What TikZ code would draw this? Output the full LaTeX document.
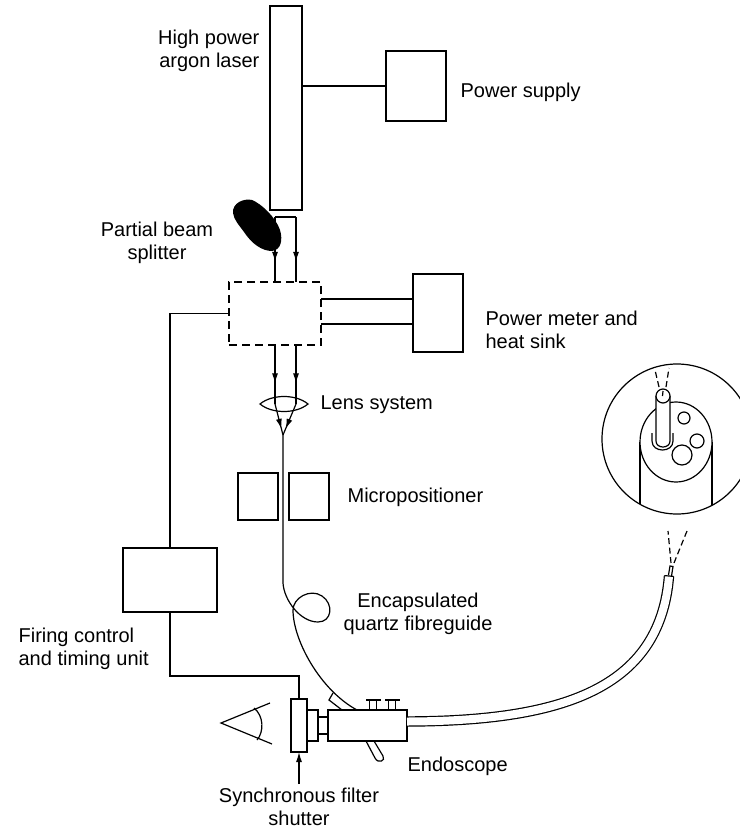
\documentclass[tikz,border=0pt]{standalone}
\usepackage{fontspec}
\setmainfont{Liberation Sans}
\usetikzlibrary{positioning,arrows.meta,decorations.markings}

\tikzset{
  box/.style={draw, rectangle, inner sep=0pt, outer sep=0pt},
  lbl/.style={inner sep=0pt, font=\fontsize{20}{23.5}\selectfont},
  arr/.style={-{Latex[length=10pt,width=6pt]}},
  midarr/.style={postaction={decorate}, decoration={markings,
      mark=at position #1 with {\arrow{Latex[length=10pt,width=6pt]}}}},
  beam/.style={dash pattern=on 6pt off 3.5pt},
}

\begin{document}
\begin{tikzpicture}[x=1pt, y=-1pt, line width=1.2pt]
\useasboundingbox (0,0) rectangle (739,832);

\node (laser) [box, minimum width=32pt, minimum height=204pt] at (286,108) {};
\node (psupply) [box, minimum width=60pt, minimum height=70pt] at (416,86) {};
\node (split) [box, dash pattern=on 8pt off 5pt, minimum width=92pt, minimum height=63pt] at (275,313.5) {};
\node (meter) [box, minimum width=50pt, minimum height=78pt] at (438,313) {};
\node (posL) [box, minimum width=40pt, minimum height=47pt] at (258,496.5) {};
\node (posR) [box, minimum width=40pt, minimum height=47pt, right=11pt of posL] {};
\node (firing) [box, minimum width=94pt, minimum height=64pt] at (170,580) {};
\node (shutter) [box, minimum width=16pt, minimum height=53pt] at (299,725.5) {};
\node (eyering) [box, minimum width=11pt, minimum height=31pt, right=0pt of shutter] {};
\node (coupler) [box, minimum width=10pt, minimum height=17pt, right=0pt of eyering] {};
\node (endo) [box, minimum width=79pt, minimum height=31pt, right=0pt of coupler] {};

\node (lasertxt) [lbl, align=right, anchor=east] at (260,51) {High power\\argon laser};
\node (supplytxt) [lbl, anchor=west] at (460,92) {Power supply};
\node (splittxt) [lbl, align=center] at (157,243) {Partial beam\\splitter};
\node (metertxt) [lbl, align=left, anchor=west] at (485,330) {Power meter and\\heat sink};
\node (lenstxt) [lbl, anchor=west] at (320,405) {Lens system};
\node (postxt) [lbl, anchor=west] at (347,497) {Micropositioner};
\node (fibretxt) [lbl, align=center] at (418,614) {Encapsulated\\quartz fibreguide};
\node (firingtxt) [lbl, align=left, anchor=west] at (18,649) {Firing control\\and timing unit};
\node (endotxt) [lbl, anchor=west] at (407,766) {Endoscope};
\node (shuttertxt) [lbl, align=center] at (299,807) {Synchronous filter\\shutter};

\coordinate (inL) at (275,217);
\coordinate (inR) at (296,217);
\coordinate (outR) at (296,345);
\coordinate (lensL) at (275,404);
\coordinate (lensR) at (296,404);
\coordinate (focus) at (283,435);
\coordinate (fibreend) at (357,710);
\coordinate (tubeend) at (669,576);
\coordinate (trig) at (299,784);
\path (split.east) ++(0,-14.5) coordinate (m1) ++(0,25) coordinate (m2);

\path [-] (laser.east |- psupply.west) edge (psupply.west);
\path [-] (m1) edge (m1 -| meter.west);
\path [-] (m2) edge (m2 -| meter.west);

% beam splitter
\fill (233,213) .. controls (232,203) and (244,198) .. (252,200)
  .. controls (262,204) and (276,218) .. (280,230)
  .. controls (283,240) and (281,250) .. (272,251)
  .. controls (262,251) and (252,244) .. (244,232)
  .. controls (239,225) and (234,220) .. (233,213) -- cycle;
\draw (inL) -- (inR);
\draw [midarr=0.69] (inL) -- (split.north);
\draw [midarr=0.69] (inR) -- (inR |- split.north);

% lens and focus
\draw [midarr=0.65] (split.south) -- (lensL);
\draw [midarr=0.65] (outR) -- (lensR);
\draw [midarr=0.8] (lensL) -- (focus);
\draw [midarr=0.8] (lensR) -- (focus);
\draw (260,404) .. controls (272,394) and (296,394) .. (308,404)
  .. controls (296,414) and (272,414) .. (260,404) -- cycle;

% fibre with loop
\draw (focus) -- (283,583) .. controls (284,600) and (300,622) .. (318,622)
  .. controls (332,622) and (334,604) .. (322,596)
  .. controls (310,588) and (293,598) .. (293,610)
  .. controls (293,640) and (320,690) .. (fibreend);
\draw (342,710) -- (329,700) -- (333,693);

% firing control
\draw (split.west) -| (firing.north);
\draw (firing.south) -- ++(0,64) -| (shutter.north);
\draw [arr] (trig) -- (shutter.south);

% eye
\draw (270,703) -- (221,723) -- (272,744);
\draw (254,708) .. controls (264,716) and (264,732) .. (257,740);

% endoscope valves and handle
\foreach \k in {366,385} {
  \draw (\k,700) -- (\k+15,700);
  \draw (\k+3.5,700) -- (\k+3.5,710);
  \draw (\k+10.5,700) -- (\k+10.5,710);
}
\draw (366,741) -- (375,758) .. controls (378,764) and (386,761) .. (383,756) -- (374,741);

% flexible tube
\draw [double=white, double distance=8pt] ([yshift=4pt]endo.east)
  .. controls (560,721) and (660,690) .. (tubeend);
\draw (664.4,575.6) -- (673.6,576.4);
\draw (668.5,575) -- (670,566) -- (673,566.5) -- (671.5,576);
\draw [beam] (671,563) -- (668,531);
\draw [beam] (674,563) -- (687,531);

% tip detail
\begin{scope}
  \clip (677,439) circle [radius=75pt];
  \draw (640,442) -- (640,520);
  \draw (712,442) -- (712,520);
\end{scope}
\draw (677,439) circle [radius=75pt];
\draw [fill=white] (676,442) ellipse [x radius=36pt, y radius=40pt];
\draw (684,418) circle [radius=6pt];
\draw (697,441) circle [radius=7pt];
\draw (682,455) circle [radius=10pt];
\draw (652,433) -- (652,441) .. controls (652,453) and (673,453) .. (673,441) -- (673,433);
\draw [fill=white] (656,396) -- (656,441) .. controls (656,449) and (670,449) .. (670,441) -- (670,396);
\draw [fill=white] (663,396) circle [radius=7pt];
\draw (663,391) -- (662.5,396);
\draw [beam] (659,387) -- (655,370);
\draw [beam] (666,387) -- (669,368);
\end{tikzpicture}
\end{document}
